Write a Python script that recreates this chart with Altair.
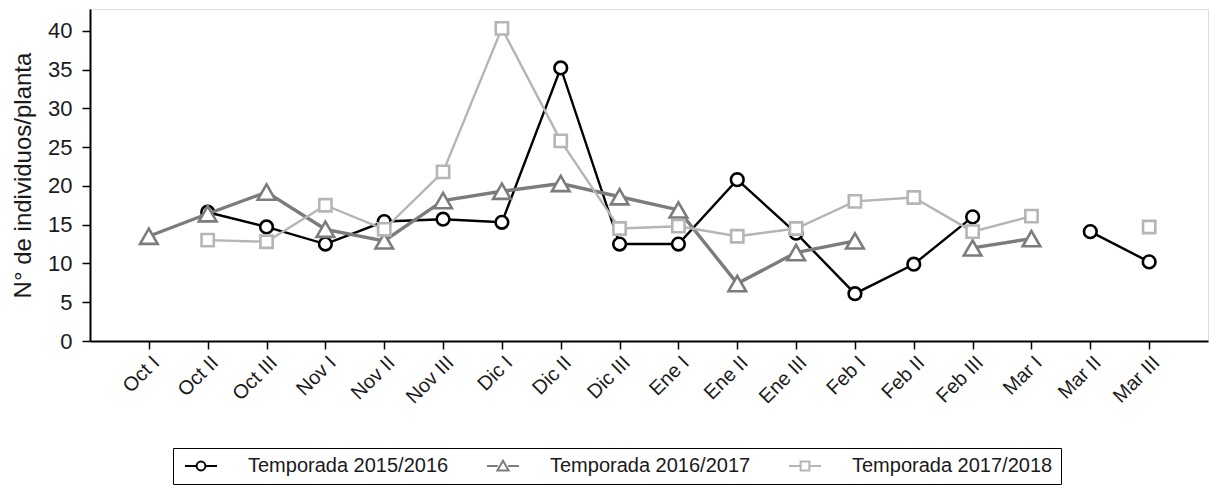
import altair as alt
import pandas as pd

periodos = ["Oct I", "Oct II", "Oct III", "Nov I", "Nov II", "Nov III",
            "Dic I", "Dic II", "Dic III", "Ene I", "Ene II", "Ene III",
            "Feb I", "Feb II", "Feb III", "Mar I", "Mar II", "Mar III"]

temporadas = ["Temporada 2015/2016", "Temporada 2016/2017", "Temporada 2017/2018"]

t2015 = [None, 16.6, 14.7, 12.5, 15.4, 15.7, 15.3, 35.2, 12.5, 12.5, 20.8, 13.9,
         6.1, 9.9, 16.0, None, 14.1, 10.2]
t2016 = [13.5, 16.4, 19.2, 14.4, 12.9, 18.1, 19.3, 20.3, 18.6, 16.9, 7.4, 11.4,
         12.9, None, 12.0, 13.2, None, None]
t2017 = [None, 13.0, 12.8, 17.5, 14.4, 21.8, 40.3, 25.8, 14.5, 14.8, 13.5, 14.5,
         18.0, 18.5, 14.1, 16.1, None, 14.7]

colores = ["#000000", "#7c7c7c", "#b5b5b5"]
grosores = [2.4, 3.4, 2.4]
formas = ["circle", "triangle-up", "square"]
tamanos = [160, 310, 150]

# legend symbols: short line with the marker in the middle (unit = 4 px)
simbolos_leyenda = [
    "M-4,0H-1.1M1.1,0H4M1.1,0A1.1,1.1,0,1,1,-1.1,0A1.1,1.1,0,1,1,1.1,0",
    "M-4,0H-1.3M1.3,0H4M0,-1.3L1.4,1.1L-1.4,1.1Z",
    "M-4,0H-1.1M1.1,0H4M-1.1,-1.1H1.1V1.1H-1.1Z",
]

rows = []
for name, vals in zip(temporadas, [t2015, t2016, t2017]):
    for p, v in zip(periodos, vals):
        rows.append({"periodo": p, "temporada": name, "valor": v})
df = pd.DataFrame(rows)

FONT = "Liberation Sans"

x_enc = alt.X("periodo:N", sort=periodos,
              scale=alt.Scale(type="point", padding=1),
              axis=alt.Axis(title=None, labelAngle=-45, labelFontSize=20,
                            labelColor="#1a1a1a", tickColor="black", tickSize=8,
                            tickWidth=1.5, domainColor="black", domainWidth=2,
                            labelPadding=3, labelFont=FONT))
y_enc = alt.Y("valor:Q",
              scale=alt.Scale(domain=[0, 42.8], nice=False, zero=True),
              axis=alt.Axis(title="N° de individuos/planta", values=list(range(0, 45, 5)),
                            labelFontSize=22, titleFontSize=24, titleFontWeight="normal",
                            labelColor="#1a1a1a", titleColor="#1a1a1a",
                            tickColor="black", tickSize=8, tickWidth=1.5,
                            domainColor="black", domainWidth=2, labelPadding=10,
                            titlePadding=12, grid=False, labelFont=FONT, titleFont=FONT))

capas = []
for name, col, sw, forma, tam in zip(temporadas, colores, grosores, formas, tamanos):
    base = alt.Chart(df).transform_filter(alt.datum.temporada == name)
    capas.append(
        base.mark_line(invalid="break-paths-show-domains", color=col, strokeWidth=sw)
        .encode(x=x_enc, y=y_enc)
    )
    capas.append(
        base.transform_filter("isValid(datum.valor)")
        .mark_point(shape=forma, size=tam, stroke=col, fill="white", fillOpacity=1,
                    opacity=1, strokeWidth=2.6)
        .encode(x=x_enc, y=y_enc)
    )

leyenda = alt.Chart(df).transform_filter("false").mark_point(
    filled=False, strokeWidth=2
).encode(
    x=x_enc, y=y_enc,
    color=alt.Color("temporada:N", scale=alt.Scale(domain=temporadas, range=colores),
                    legend=alt.Legend(title=None, orient="none", legendX=83, legendY=439,
                                      direction="horizontal", strokeColor="black",
                                      padding=8, symbolSize=64, symbolStrokeWidth=2,
                                      labelFontSize=20, labelFont=FONT, labelColor="#1a1a1a",
                                      labelLimit=400, labelOffset=37, columnPadding=34,
                                      symbolOffset=10, symbolOpacity=1)),
    shape=alt.Shape("temporada:N", scale=alt.Scale(domain=temporadas, range=simbolos_leyenda)),
)
capas.append(leyenda)

chart = alt.layer(*capas).properties(
    width=1118, height=332,
    autosize=alt.AutoSizeParams(type="none"),
    padding={"left": 90, "top": 9, "right": 2, "bottom": 145},
).configure_view(
    stroke="black", strokeWidth=2
).configure(background="white")

chart.save("out.html", embed_options={"renderer": "svg", "actions": False})
